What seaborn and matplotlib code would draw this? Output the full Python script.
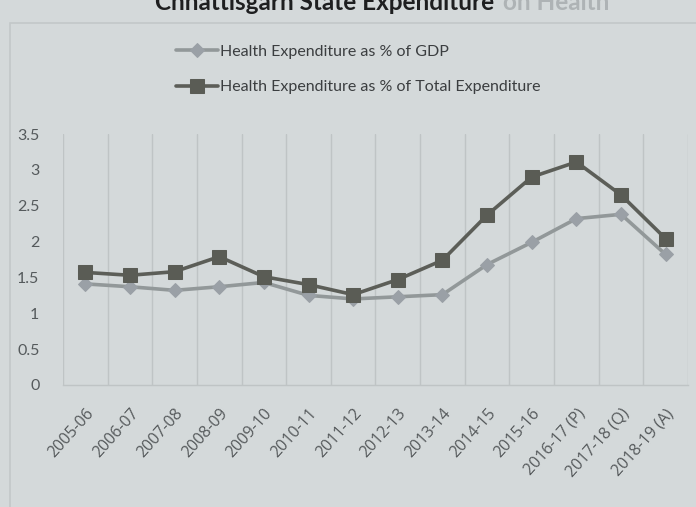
import matplotlib
matplotlib.use("Agg")
import matplotlib.pyplot as plt
import seaborn as sns
import pandas as pd
from matplotlib.patches import Rectangle

# Financial years on the x axis
years = ["2005-06", "2006-07", "2007-08", "2008-09", "2009-10", "2010-11",
         "2011-12", "2012-13", "2013-14", "2014-15", "2015-16",
         "2016-17 (P)", "2017-18 (Q)", "2018-19 (A)"]

# Health expenditure as a share of GSDP (%)
pct_gdp = [1.41, 1.37, 1.32, 1.37, 1.43, 1.25, 1.20, 1.23, 1.26,
           1.68, 1.99, 2.32, 2.38, 1.82]

# Health expenditure as a share of total state expenditure (%)
pct_total = [1.57, 1.53, 1.58, 1.79, 1.51, 1.40, 1.26, 1.47, 1.74,
             2.37, 2.90, 3.11, 2.65, 2.04]

series_gdp = "Health Expenditure as % of GDP"
series_total = "Health Expenditure as % of Total Expenditure"

y_ticks = [0, 0.5, 1, 1.5, 2, 2.5, 3, 3.5]
y_tick_labels = ["0", "0.5", "1", "1.5", "2", "2.5", "3", "3.5"]

df_gdp = pd.DataFrame({"year": years, "value": pct_gdp})
df_total = pd.DataFrame({"year": years, "value": pct_total})

BG = "#d4d9da"
sns.set_theme(style="white")
plt.rcParams["font.family"] = ["Lato", "DejaVu Sans"]

fig = plt.figure(figsize=(6.96, 5.07), dpi=100, facecolor=BG)
ax = fig.add_axes([63 / 696, 1 - 385 / 507, (688 - 63) / 696, (385 - 134) / 507])
ax.set_facecolor(BG)

# chart frame
fig.patches.append(Rectangle((10 / 696, -0.05), 0.99, 1.05 - 23 / 507,
                             transform=fig.transFigure, fill=False,
                             edgecolor="#c3c8c9", linewidth=1.2, zorder=0))

sns.lineplot(data=df_gdp, x="year", y="value", ax=ax, sort=False,
             color="#929899", linewidth=2.6, marker="D", markersize=7.5,
             markerfacecolor="#9aa0a6", markeredgecolor="#9aa0a6",
             label=series_gdp, zorder=3)
sns.lineplot(data=df_total, x="year", y="value", ax=ax, sort=False,
             color="#5c5e58", linewidth=2.6, marker="s", markersize=9.5,
             markerfacecolor="#5a5c55", markeredgecolor="#5a5c55",
             label=series_total, zorder=4)

ax.set_xlim(-0.5, len(years) - 0.5)
ax.set_ylim(0, 3.5)
ax.set_yticks(y_ticks)
ax.set_yticklabels(y_tick_labels)
ax.set_xticks(range(len(years)))
ax.set_xticklabels(years, rotation=48, ha="right", rotation_mode="anchor")
ax.set_xlabel("")
ax.set_ylabel("")

# vertical gridlines between categories
for b in range(len(years) + 1):
    ax.axvline(b - 0.5, color="#bfc4c5", linewidth=1.0, zorder=1)

for s in ["top", "right", "left"]:
    ax.spines[s].set_visible(False)
ax.spines["bottom"].set_color("#bfc4c5")
ax.spines["bottom"].set_linewidth(1.0)

ax.tick_params(axis="y", length=0, pad=17, labelsize=11.5, labelcolor="#555a5c")
ax.tick_params(axis="x", length=0, pad=15, labelsize=11, labelcolor="#565a5c")
for lbl in ax.get_xticklabels():
    lbl.set_family(["Open Sans", "DejaVu Sans"])
    lbl.set_fontsize(11.5)

leg = ax.legend(loc="upper left", bbox_to_anchor=(170 / 696, 1 - 38 / 507),
                bbox_transform=fig.transFigure, frameon=False, fontsize=11.5,
                handlelength=2.6, handletextpad=0.1, labelspacing=1.35,
                numpoints=1, borderaxespad=0)
for t in leg.get_texts():
    t.set_color("#3b3e40")

# title, mostly above the top edge
fig.text(155 / 696, 1 - 10 / 507, "Chhattisgarh State Expenditure", ha="left",
         va="baseline", fontsize=17.5, fontweight="bold", color="#1e1f20",
         family=["Lato", "DejaVu Sans"])
fig.text(503 / 696, 1 - 10 / 507, "on Health", ha="left",
         va="baseline", fontsize=17.5, fontweight="bold", color="#aeb3b5",
         family=["Lato", "DejaVu Sans"])

fig.savefig("out.png", dpi=100, facecolor=BG)
